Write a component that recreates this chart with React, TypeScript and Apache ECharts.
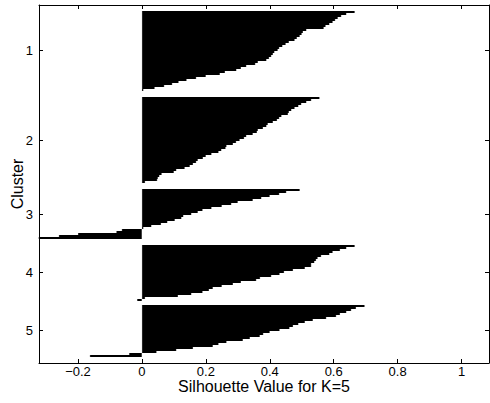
import React, { useEffect, useRef } from "react";
import * as echarts from "echarts";

// Silhouette values per cluster (sorted, top to bottom)
const cluster1 = [0.666, 0.64, 0.624, 0.613, 0.605, 0.597, 0.587, 0.575, 0.569, 0.515, 0.504, 0.5, 0.494, 0.485, 0.478, 0.46, 0.45, 0.44, 0.43, 0.425, 0.415, 0.41, 0.405, 0.398, 0.39, 0.363, 0.355, 0.327, 0.31, 0.296, 0.26, 0.244, 0.2, 0.17, 0.14, 0.115, 0.095, 0.07, 0.04, 0.005];
const cluster2 = [0.556, 0.53, 0.515, 0.499, 0.49, 0.478, 0.468, 0.46, 0.457, 0.437, 0.43, 0.423, 0.41, 0.394, 0.39, 0.379, 0.363, 0.36, 0.347, 0.327, 0.32, 0.306, 0.295, 0.285, 0.265, 0.262, 0.249, 0.24, 0.218, 0.2, 0.191, 0.175, 0.17, 0.16, 0.15, 0.134, 0.108, 0.1, 0.062, 0.055, 0.05, 0.048, 0.01];
const cluster3 = [0.494, 0.452, 0.43, 0.4, 0.374, 0.347, 0.3, 0.28, 0.25, 0.218, 0.19, 0.175, 0.155, 0.13, 0.124, 0.103, 0.08, 0.06, 0.03, 0.005, -0.063, -0.08, -0.2, -0.26, -0.4];
const cluster4 = [0.666, 0.64, 0.62, 0.597, 0.587, 0.561, 0.55, 0.545, 0.54, 0.53, 0.53, 0.51, 0.473, 0.445, 0.431, 0.405, 0.37, 0.358, 0.31, 0.285, 0.25, 0.222, 0.21, 0.19, 0.155, 0.113, 0.01, -0.015];
const cluster5 = [0.697, 0.67, 0.655, 0.64, 0.62, 0.608, 0.577, 0.535, 0.51, 0.49, 0.473, 0.462, 0.431, 0.4, 0.38, 0.369, 0.338, 0.316, 0.265, 0.24, 0.222, 0.16, 0.108, 0.046, -0.04, -0.163];

const clusterLabels = ["1", "2", "3", "4", "5"];
const xTicks = [-0.2, 0, 0.2, 0.4, 0.6, 0.8, 1];
const xTitle = "Silhouette Value for K=5";
const yTitle = "Cluster";

const clusters = [cluster1, cluster2, cluster3, cluster4, cluster5];
const EDGE_ROWS = 3;
const GAP_ROWS = [3, 3, 3, 2];

function buildRows() {
  const values: (number | string)[] = [];
  const tickIdx: number[] = [];
  const tickLabel: Record<number, string> = {};
  for (let i = 0; i < EDGE_ROWS; i++) values.push("-");
  clusters.forEach((c, ci) => {
    const start = values.length;
    const mid = start + Math.floor((c.length - 1) / 2);
    tickIdx.push(mid);
    tickLabel[mid] = clusterLabels[ci];
    c.forEach((v) => values.push(v));
    const gap = ci < GAP_ROWS.length ? GAP_ROWS[ci] : EDGE_ROWS;
    for (let i = 0; i < gap; i++) values.push("-");
  });
  return { values, tickIdx, tickLabel };
}

export default function App() {
  const ref = useRef<HTMLDivElement>(null);
  useEffect(() => {
    if (!ref.current) return;
    const chart = echarts.init(ref.current, undefined, { renderer: "svg" });
    const { values, tickIdx, tickLabel } = buildRows();
    const cats = values.map((_, i) => String(i));
    const font = "Liberation Sans, Arial, Helvetica, sans-serif";
    const isTick = (i: number) => tickIdx.indexOf(i) >= 0;
    const xMin = -0.322;
    const xMax = 1.086;
    const fmtX = (v: number) => {
      const r = Math.round(v * 10) / 10;
      return r < 0 ? "\u2212" + String(-r) : String(r);
    };
    chart.setOption({
      animation: false,
      backgroundColor: "#fff",
      grid: { left: 39, top: 5, width: 450, height: 358, containLabel: false, outerBoundsMode: "none" },
      xAxis: [
        {
          type: "value",
          position: "bottom",
          min: xMin,
          max: xMax,
          axisLine: { show: true, onZero: false, lineStyle: { color: "#000", width: 1 } },
          axisTick: { show: true, inside: true, length: 4, customValues: xTicks, lineStyle: { color: "#000" } },
          axisLabel: { show: true, customValues: xTicks, formatter: fmtX, color: "#000", fontSize: 13, fontFamily: font, margin: 2 },
          splitLine: { show: false },
          name: xTitle,
          nameLocation: "middle",
          nameGap: 15,
          nameMoveOverlap: false,
          nameTextStyle: { color: "#000", fontSize: 16, fontFamily: font, verticalAlign: "top" },
        },
        {
          type: "value",
          position: "top",
          min: xMin,
          max: xMax,
          axisLine: { show: true, onZero: false, lineStyle: { color: "#000", width: 1 } },
          axisTick: { show: true, inside: true, length: 4, customValues: xTicks, lineStyle: { color: "#000" } },
          axisLabel: { show: false },
          splitLine: { show: false },
        },
      ],
      yAxis: [
        {
          type: "category",
          data: cats,
          inverse: true,
          position: "left",
          boundaryGap: true,
          axisLine: { show: true, onZero: false, lineStyle: { color: "#000", width: 1 } },
          axisTick: { show: true, inside: true, length: 4, alignWithLabel: true, interval: (i: number) => isTick(i), lineStyle: { color: "#000" } },
          axisLabel: {
            show: true,
            interval: (i: number) => isTick(i),
            formatter: (_v: string, i: number) => tickLabel[i] || "",
            color: "#000",
            fontSize: 13,
            fontFamily: font,
            margin: 6,
          },
          splitLine: { show: false },
          name: yTitle,
          nameLocation: "middle",
          nameGap: 14,
          nameMoveOverlap: false,
          nameTextStyle: { color: "#000", fontSize: 16, fontFamily: font },
        },
        {
          type: "category",
          data: cats,
          inverse: true,
          position: "right",
          boundaryGap: true,
          axisLine: { show: true, onZero: false, lineStyle: { color: "#000", width: 1 } },
          axisTick: { show: true, inside: true, length: 4, alignWithLabel: true, interval: (i: number) => isTick(i), lineStyle: { color: "#000" } },
          axisLabel: { show: false },
          splitLine: { show: false },
        },
      ],
      series: [
        {
          type: "bar",
          xAxisIndex: 0,
          yAxisIndex: 0,
          data: values,
          barCategoryGap: "0%",
          barWidth: "100%",
          clip: true,
          itemStyle: { color: "#000", opacity: 1, borderColor: "#000", borderWidth: 1 },
          emphasis: { disabled: true },
        },
      ],
    });
    return () => chart.dispose();
  }, []);
  return <div ref={ref} style={{ position: "fixed", left: 0, top: 0, width: 490, height: 403 }} />;
}
